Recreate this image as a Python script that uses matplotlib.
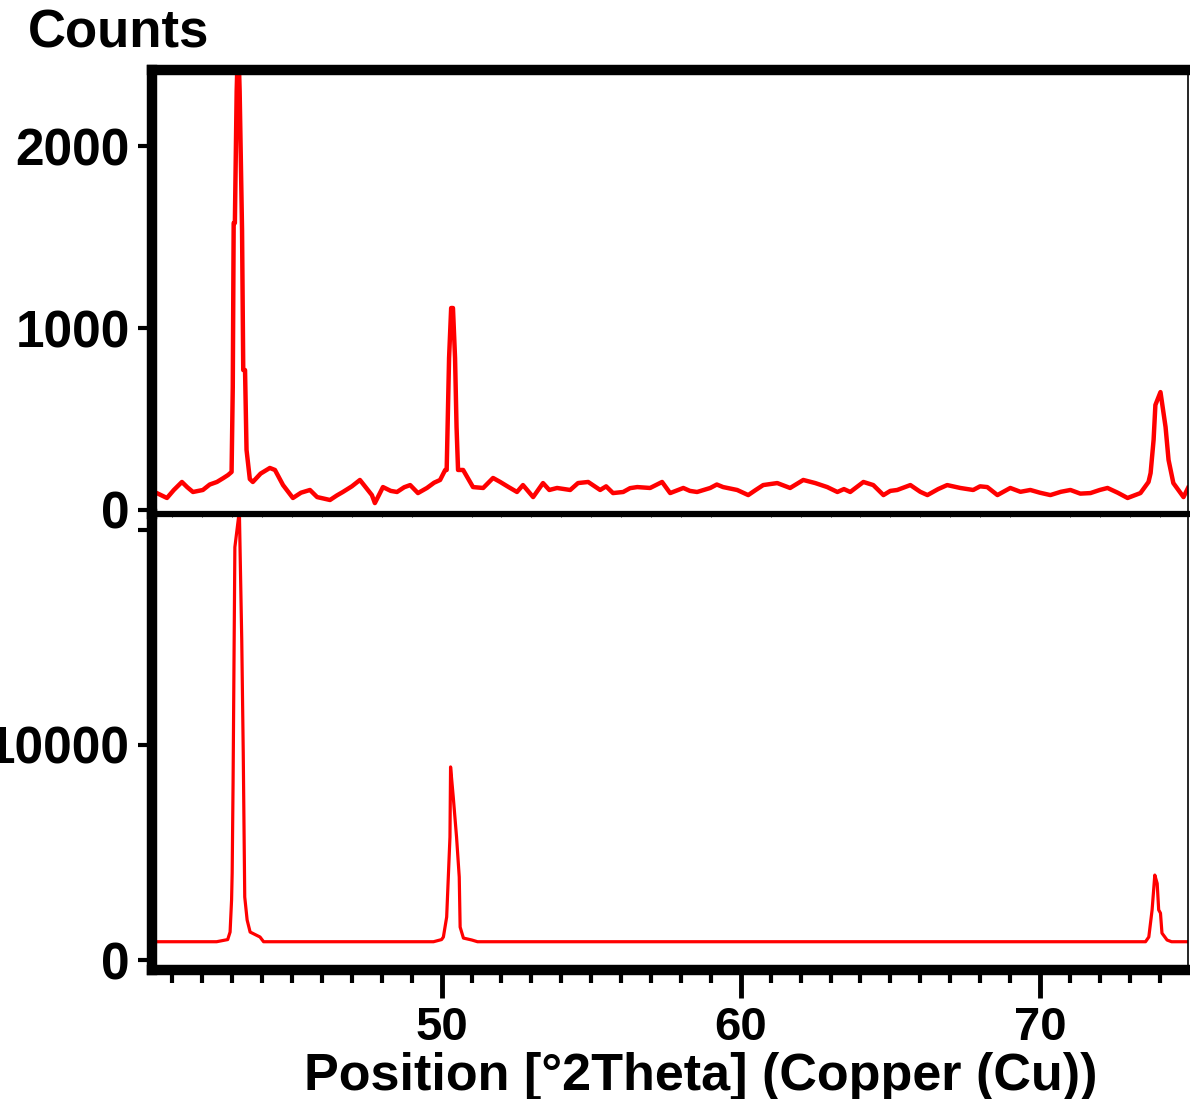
import numpy as np
import matplotlib
matplotlib.use("Agg")
import matplotlib.pyplot as plt
from matplotlib.ticker import MultipleLocator

plt.rcParams['font.family'] = ['Liberation Sans', 'DejaVu Sans']
plt.rcParams['font.weight'] = 'bold'

# top pattern: position (deg 2theta) and counts
top_pos = [40.32, 40.48, 40.82, 41.05, 41.32, 41.5, 41.69, 42.02, 42.25, 42.49, 42.7, 42.86, 42.98,
           43.02, 43.05, 43.09, 43.15, 43.2, 43.25, 43.33, 43.37, 43.43, 43.48, 43.59, 43.69, 43.95, 44.26,
           44.43, 44.7, 45.03, 45.3, 45.6, 45.84, 46.27, 46.5, 46.7, 47.0, 47.27, 47.67, 47.77,
           48.04, 48.3, 48.51, 48.75, 48.95, 49.21, 49.51, 49.75, 49.95, 50.12, 50.17, 50.2,
           50.25, 50.32, 50.38, 50.45, 50.5, 50.55, 50.72, 51.05, 51.39, 51.72, 51.96, 52.25,
           52.52, 52.72, 53.06, 53.39, 53.6, 53.86, 54.3, 54.56, 54.9, 55.3, 55.5, 55.73, 56.07,
           56.3, 56.54, 56.97, 57.37, 57.64, 58.08, 58.3, 58.54, 58.98, 59.2, 59.41, 59.88,
           60.25, 60.5, 60.75, 61.22, 61.65, 62.09, 62.49, 62.89, 63.23, 63.45, 63.66, 64.1,
           64.43, 64.77, 65.0, 65.23, 65.67, 66.0, 66.24, 66.6, 66.9, 67.34, 67.77, 68.0, 68.24,
           68.58, 69.01, 69.35, 69.68, 70.0, 70.35, 70.7, 71.02, 71.35, 71.69, 72.0, 72.26,
           72.6, 72.93, 73.36, 73.63, 73.7, 73.8, 73.86, 74.03, 74.2, 74.3, 74.46, 74.8, 74.95]
top_counts = [99, 93, 66, 110, 154, 125, 99, 110, 140, 154, 175, 192, 209,
              676, 1577, 1577, 2300, 2600, 2300, 1538, 769, 769, 330, 170, 154, 200, 231,
              220, 137, 66, 95, 110, 71, 55, 80, 99, 130, 165, 82, 38,
              126, 105, 99, 125, 137, 93, 121, 150, 165, 220, 220, 456,
              835, 1110, 1110, 835, 456, 220, 220, 126, 121, 176, 154, 125,
              99, 137, 71, 148, 110, 121, 110, 148, 154, 110, 130, 93, 99,
              120, 126, 121, 154, 93, 121, 105, 99, 121, 140, 126, 110,
              82, 110, 137, 148, 121, 165, 148, 126, 99, 115, 99, 154,
              137, 82, 105, 110, 137, 100, 82, 115, 137, 121, 110, 130, 126,
              82, 121, 100, 110, 95, 82, 100, 110, 90, 93, 110, 121,
              95, 66, 93, 154, 203, 385, 577, 648, 456, 275, 148, 71, 121]

# bottom pattern
bot_pos = [40.32, 42.48, 42.85, 42.93, 42.98, 43.0, 43.03, 43.09, 43.24, 43.32, 43.37, 43.42,
           43.5, 43.6, 43.93, 44.05,
           49.73, 50.0, 50.06, 50.17, 50.28, 50.30, 50.39, 50.5, 50.59, 50.62, 50.73, 51.01, 51.2,
           73.53, 73.64, 73.75, 73.84, 73.92, 73.97, 74.03, 74.08, 74.25, 74.4, 74.95]
bot_counts = [850, 850, 950, 1300, 2790, 4050, 8230, 19200, 20900, 14880, 9630, 2930,
              1860, 1300, 1070, 850,
              850, 950, 1070, 2000, 5720, 8980, 7580, 5720, 3860, 1530, 1020, 930, 850,
              850, 1070, 2330, 3950, 3560, 2330, 2180, 1250, 930, 850, 850]

W, H = 1190, 1099
fig = plt.figure(figsize=(W / 100, H / 100), dpi=100)
left, right = 152 / W, 1188 / W
mid = 1 - 514 / H
ax2 = fig.add_axes([left, 1 - 970 / H, right - left, mid - (1 - 970 / H)])
ax1 = fig.add_axes([left, mid, right - left, (1 - 70 / H) - mid], sharex=ax2)
ax1.patch.set_alpha(0)

ax1.plot(top_pos, top_counts, color='#ff0000', lw=3.2)
ax2.plot(bot_pos, bot_counts, color='#ff0000', lw=2.3)

ax1.set_xlim(40.32, 74.95)
ax1.set_ylim(-22, 2418)
ax2.set_ylim(-465, 20744)

for ax in (ax1, ax2):
    ax.spines['left'].set_linewidth(7.5)
    ax.spines['right'].set_linewidth(1.2)
    ax.tick_params(axis='y', direction='out', length=10, width=3, pad=6, labelsize=37)

ax1.spines['top'].set_linewidth(7.5)
ax1.spines['bottom'].set_linewidth(4.5)
ax2.spines['top'].set_visible(False)
ax2.spines['bottom'].set_linewidth(7.5)

ax1.set_yticks([0, 1000, 2000])
ax1.tick_params(axis='x', bottom=False, labelbottom=False)

ax2.set_yticks([0, 10000, 20000])
ax2.set_yticklabels(['0', '10000', ''])
ax2.xaxis.set_major_locator(MultipleLocator(10))
ax2.xaxis.set_minor_locator(MultipleLocator(1))
ax2.tick_params(axis='x', which='major', direction='out', length=20, width=3.5, pad=6, labelsize=34)
ax2.tick_params(axis='x', which='minor', direction='out', length=9.5, width=3)
ax2.set_xticks([50, 60, 70])

fig.text(28 / W, 1 - 47 / H, 'Counts', fontsize=38, fontweight='bold', va='baseline', ha='left')
fig.text(701 / W, 1 - 1090 / H, 'Position [°2Theta] (Copper (Cu))', fontsize=37.5,
         fontweight='bold', va='baseline', ha='center')

fig.savefig('out.png', dpi=100)
